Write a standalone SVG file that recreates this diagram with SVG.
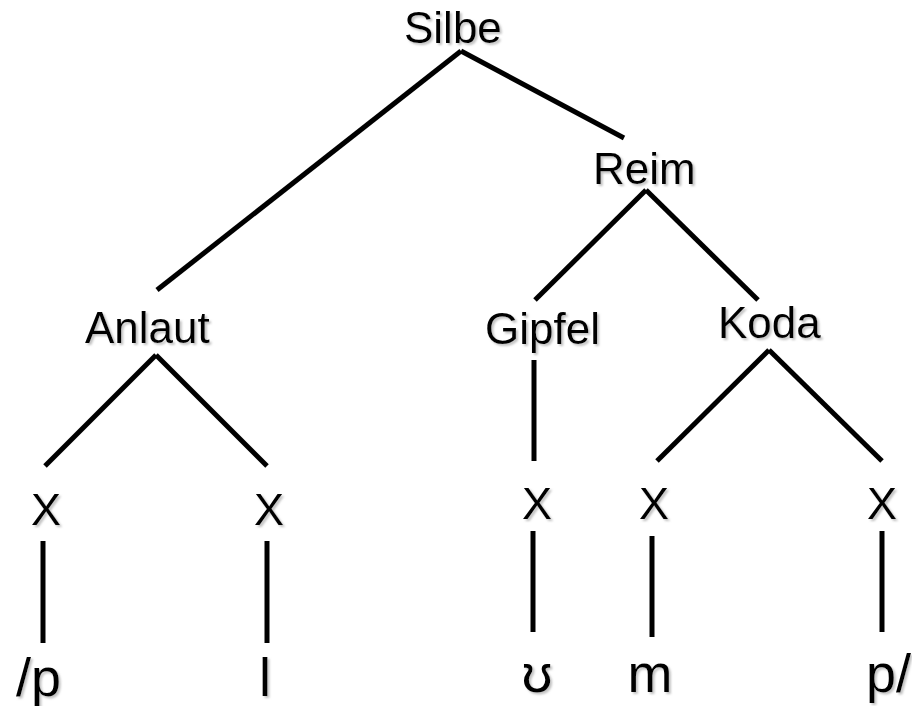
<svg xmlns="http://www.w3.org/2000/svg" width="912" height="706" viewBox="0 0 912 706">
<defs>
<filter id="sh" x="-10%" y="-10%" width="130%" height="140%">
<feDropShadow dx="2" dy="2" stdDeviation="1" flood-color="#999999" flood-opacity="0.6"/>
</filter>
<style>
.t{font-family:"Liberation Sans","DejaVu Sans",Arial,sans-serif;fill:#000;filter:url(#sh)}
.up{font-size:44px}
.x{font-size:45px;text-anchor:middle}
.b{font-size:54px}
.c line{stroke:#000;stroke-width:5;stroke-linecap:butt}
</style>
</defs>
<rect width="912" height="706" fill="#fff"/>
<g class="c" id="connectors">
<line x1="461" y1="51" x2="157" y2="290"/>
<line x1="461" y1="51" x2="624" y2="138"/>
<line x1="646" y1="190" x2="535" y2="300"/>
<line x1="646" y1="190" x2="758" y2="300"/>
<line x1="156" y1="355" x2="45" y2="466"/>
<line x1="156" y1="355" x2="267" y2="466"/>
<line x1="534" y1="360" x2="534" y2="461"/>
<line x1="769" y1="350" x2="657" y2="461"/>
<line x1="769" y1="350" x2="882" y2="461"/>
<line x1="43" y1="541" x2="43" y2="643"/>
<line x1="267" y1="541" x2="267" y2="643"/>
<line x1="533" y1="531" x2="533" y2="632"/>
<line x1="652" y1="536" x2="652" y2="637"/>
<line x1="882" y1="531" x2="882" y2="632"/>
</g>
<g id="silbe"><text class="t up" x="404" y="43">Silbe</text></g>
<g id="reim"><text class="t up" x="593" y="184">Reim</text></g>
<g id="anlaut"><text class="t up" x="85" y="343">Anlaut</text></g>
<g id="gipfel"><text class="t up" x="485" y="344">Gipfel</text></g>
<g id="koda"><text class="t up" x="718" y="338">Koda</text></g>
<g id="x1"><text class="t x" x="46" y="525">X</text></g>
<g id="x2"><text class="t x" x="269" y="525">X</text></g>
<g id="x3"><text class="t x" x="537" y="519">X</text></g>
<g id="x4"><text class="t x" x="654" y="519">X</text></g>
<g id="x5"><text class="t x" x="882" y="519">X</text></g>
<g id="seg-p1"><text class="t b" x="16" y="696">/p</text></g>
<g id="seg-l"><text class="t b" x="265" y="696" text-anchor="middle">l</text></g>
<g id="seg-u"><text class="t b" x="537" y="692" text-anchor="middle">ʊ</text></g>
<g id="seg-m"><text class="t b" x="650" y="692" text-anchor="middle">m</text></g>
<g id="seg-p2"><text class="t b" x="866" y="692">p/</text></g>
</svg>
